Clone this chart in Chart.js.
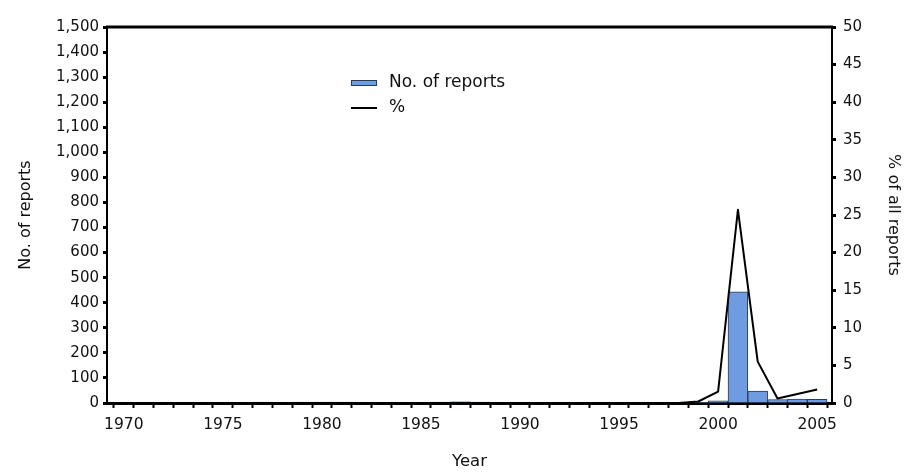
<!DOCTYPE html>
<html lang="en">
<head>
  <meta charset="UTF-8" />
  <title>Reports by year</title>
  <style>
    body {
      margin: 0;
      padding: 0;
      background: #fff;
    }
    .wrap {
      width: 909px;
      height: 472px;
      position: relative;
    }
  </style>
</head>
<body>
  <div class="wrap">
    <canvas id="reportsChart" width="909" height="472"></canvas>
  </div>

  <script src="https://cdn.jsdelivr.net/npm/chart.js"></script>
  <script>
    const years = [1970, 1971, 1972, 1973, 1974, 1975, 1976, 1977, 1978, 1979,
                   1980, 1981, 1982, 1983, 1984, 1985, 1986, 1987, 1988, 1989,
                   1990, 1991, 1992, 1993, 1994, 1995, 1996, 1997, 1998, 1999,
                   2000, 2001, 2002, 2003, 2004, 2005];
    const reports = [0, 2, 3, 2, 0, 0, 0, 4, 3, 4,
                     4, 4, 0, 0, 0, 0, 4, 5, 4, 0,
                     0, 0, 0, 0, 0, 0, 0, 0, 0, 1,
                     9, 443, 48, 14, 16, 15];
    const percent = [0, 0, 0, 0, 0, 0, 0, 0, 0, 0,
                     0, 0, 0, 0, 0, 0, 0, 0, 0, 0,
                     0, 0, 0, 0, 0, 0, 0, 0, 0, 0.2,
                     1.5, 25.7, 5.5, 0.6, 1.2, 1.8];
    const xLabelYears = [1970, 1975, 1980, 1985, 1990, 1995, 2000, 2005];

    const FONT = "'DejaVu Sans', Arial, sans-serif";

    // top frame line + legend drawn in the plot
    const framePlugin = {
      id: 'frame',
      afterDraw(chart) {
        const c = chart.ctx;
        const a = chart.chartArea;
        c.save();
        c.strokeStyle = '#000';
        c.lineWidth = 3;
        c.beginPath();
        c.moveTo(a.left - 1, a.top);
        c.lineTo(a.right + 1, a.top);
        c.stroke();

        // legend
        c.fillStyle = '#6f9be0';
        c.fillRect(351, 80, 26, 6);
        c.strokeStyle = '#2b3a55';
        c.lineWidth = 1;
        c.strokeRect(351.5, 80.5, 25, 5);
        c.strokeStyle = '#000';
        c.lineWidth = 2;
        c.beginPath();
        c.moveTo(351, 108);
        c.lineTo(377, 108);
        c.stroke();
        c.fillStyle = '#111';
        c.font = '17px ' + FONT;
        c.textBaseline = 'middle';
        c.fillText(chart.data.datasets[0].label, 389, 83);
        c.fillText(chart.data.datasets[1].label, 389, 108);
        c.restore();
      }
    };

    const ctx = document.getElementById('reportsChart').getContext('2d');

    new Chart(ctx, {
      type: 'bar',
      data: {
        datasets: [{
          type: 'bar',
          label: 'No. of reports',
          data: years.map((y, i) => ({ x: y, y: reports[i] })),
          backgroundColor: '#6f9be0',
          borderColor: '#2b3a55',
          borderWidth: 1,
          barPercentage: 1,
          categoryPercentage: 1,
          yAxisID: 'y',
          order: 2
        }, {
          type: 'line',
          label: '%',
          data: years.map((y, i) => ({ x: y, y: percent[i] })),
          borderColor: '#000',
          borderWidth: 2,
          borderJoinStyle: 'round',
          pointRadius: 0,
          tension: 0,
          fill: false,
          yAxisID: 'y1',
          order: 1
        }]
      },
      options: {
        responsive: false,
        animation: false,
        layout: { padding: { top: 27, left: 0, right: 0, bottom: 0 } },
        plugins: {
          legend: { display: false },
          tooltip: { enabled: false }
        },
        scales: {
          x: {
            type: 'linear',
            min: 1969.15,
            max: 2005.75,
            offset: false,
            grid: {
              display: true,
              drawOnChartArea: false,
              drawTicks: true,
              tickLength: 5,
              tickWidth: 2,
              tickColor: '#000'
            },
            border: { display: true, color: '#000', width: 3 },
            ticks: {
              stepSize: 1,
              includeBounds: false,
              autoSkip: false,
              maxRotation: 0,
              color: '#111',
              padding: 8,
              font: { family: FONT, size: 15.5 },
              callback: v => xLabelYears.includes(v) ? String(v) : ''
            },
            title: {
              display: true,
              text: 'Year',
              color: '#111',
              font: { family: FONT, size: 16.5 },
              padding: { top: 10, bottom: 0 }
            },
            afterFit: s => { s.height = 69; }
          },
          y: {
            position: 'left',
            min: 0,
            max: 1500,
            grid: {
              display: true,
              drawOnChartArea: false,
              drawTicks: true,
              tickLength: 4,
              tickWidth: 3,
              tickColor: '#000'
            },
            border: { display: true, color: '#000', width: 2 },
            ticks: {
              stepSize: 100,
              color: '#111',
              padding: 4,
              font: { family: FONT, size: 15 },
              callback: v => v.toLocaleString('en-US')
            },
            title: {
              display: true,
              text: 'No. of reports',
              color: '#111',
              font: { family: FONT, size: 16 },
              padding: { top: 16, bottom: 0 }
            },
            afterFit: s => { s.width = 107; }
          },
          y1: {
            position: 'right',
            min: 0,
            max: 50,
            grid: {
              display: true,
              drawOnChartArea: false,
              drawTicks: true,
              tickLength: 4,
              tickWidth: 3,
              tickColor: '#000'
            },
            border: { display: true, color: '#000', width: 2 },
            ticks: {
              stepSize: 5,
              color: '#111',
              padding: 7,
              font: { family: FONT, size: 15 },
              callback: v => String(v)
            },
            title: {
              display: true,
              text: '% of all reports',
              color: '#111',
              font: { family: FONT, size: 16 },
              padding: { top: 6, bottom: 10 }
            },
            afterFit: s => { s.width = 77; }
          }
        }
      },
      plugins: [framePlugin]
    });
  </script>
</body>
</html>
